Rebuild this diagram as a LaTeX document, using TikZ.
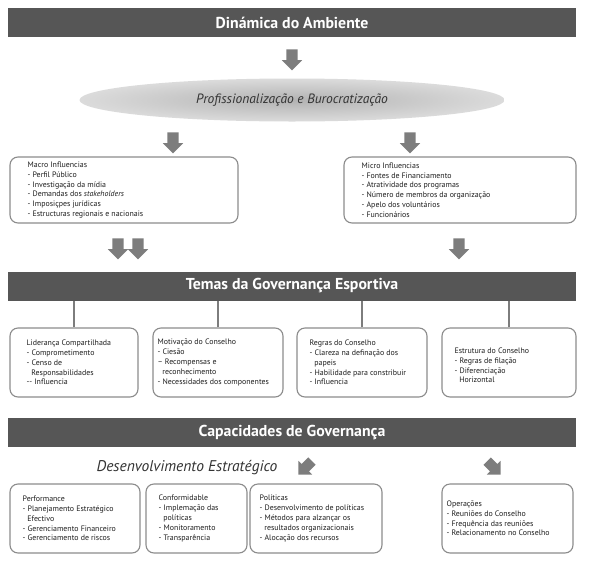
\documentclass[tikz,border=0pt]{standalone}
\usepackage{fontspec}
\setmainfont{PT Sans}
\usetikzlibrary{shapes.geometric,shapes.arrows}
\definecolor{bannergray}{RGB}{86,86,86}
\definecolor{arrowgray}{RGB}{125,125,125}
\definecolor{boxgray}{RGB}{140,140,140}
\definecolor{txtgray}{RGB}{30,30,30}
\newcommand{\boxfont}{\fontsize{7.9}{9.8}\selectfont}
\tikzset{
  banner/.style={fill=bannergray, minimum width=568pt, minimum height=29pt, inner sep=0pt,
    text=white, font=\bfseries\fontsize{15.8}{17}\selectfont},
  blockarrow/.style={single arrow, fill=arrowgray, draw=none, minimum height=21pt,
    inner sep=5.5pt, single arrow head extend=4.5pt},
  smallarrow/.style={single arrow, fill=arrowgray, draw=none, minimum height=19pt,
    inner sep=5pt, single arrow head extend=4.5pt},
  infobox/.style={draw=boxgray, line width=1.1pt, rounded corners=8pt, fill=white, inner sep=0pt},
  boxtext/.style={align=left, font=\boxfont, text=txtgray, inner sep=0pt, anchor=west},
  conn/.style={draw=arrowgray, line width=1.3pt}
}
\begin{document}
\begin{tikzpicture}[x=1pt,y=-1pt]
\useasboundingbox[fill=white] (0,0) rectangle (592,563);

% ---- top section
\node[banner] (dyn) at (292,22.5) {Dinámica do Ambiente};
\node[blockarrow, rotate=-90] (a0) at (292,57) {};
\node[ellipse, shading=radial, inner color=black!30, outer color=black!14,
      minimum width=425pt, minimum height=43pt, inner sep=0pt,
      font=\itshape\fontsize{13.5}{15}\selectfont, text=black!80] (prof) at (292,100)
      {Profissionalização e Burocratização};
\node[blockarrow, rotate=-90] (a1) at (173,140) {};
\node[blockarrow, rotate=-90] (a2) at (410,140) {};

\node[infobox, minimum width=228pt, minimum height=66pt] (macro) at (124,190) {};
\node[boxtext] (macrotxt) at ([xshift=18pt]macro.west) {Macro Influencias\\
- Perfil Público\\
- Investigação da mídia\\
- Demandas dos \textit{stakeholders}\\
- Imposiçpes jurídicas\\
- Estructuras regionais e nacionais};

\node[infobox, minimum width=232pt, minimum height=66pt] (micro) at (460,190) {};
\node[boxtext] (microtxt) at ([xshift=18pt]micro.west) {Micro Influencias\\
- Fontes de Financiamento\\
- Atratividade dos programas\\
- Número de membros da organização\\
- Apelo dos voluntários\\
- Funcionários};

\node[blockarrow, rotate=-90] (a3) at (118,246) {};
\node[blockarrow, rotate=-90] (a4) at (138,246) {};
\node[blockarrow, rotate=-90] (a5) at (459,246) {};

% ---- themes
\node[banner] (temas) at (292,286) {Temas da Governança Esportiva};

\node[infobox, minimum width=128pt, minimum height=69pt] (t1) at (74,362.5) {};
\node[boxtext] (t1txt) at ([xshift=17pt]t1.west) {Liderança Compartilhada\\
- Comprometimento\\
- Censo de\\
\hspace*{0.6em}Responsabilidades\\
-{}- Influencia};

\node[infobox, minimum width=130pt, minimum height=69pt] (t2) at (218,362.5) {};
\node[boxtext] (t2txt) at ([xshift=5pt]t2.west) {Motivação do Conselho\\
- Ciesão\\
– Recompensas e\\
\hspace*{0.6em}reconhecimento\\
- Necessidades dos componentes};

\node[infobox, minimum width=130pt, minimum height=69pt] (t3) at (362,362.5) {};
\node[boxtext] (t3txt) at ([xshift=13pt]t3.west) {Regras do Conselho\\
- Clareza na definação dos\\
\hspace*{0.6em}papeis\\
- Habilidade para constribuir\\
- Influencia};

\node[infobox, minimum width=134pt, minimum height=69pt] (t4) at (509,362.5) {};
\node[boxtext] (t4txt) at ([xshift=13pt,yshift=-3pt]t4.west) {Estrutura do Conselho\\
- Regras de filação\\
- Diferenciação\\
\hspace*{0.6em}Horizontal};

\foreach \b in {t1,t2,t3,t4}{
  \draw[conn] (\b.north) -- (\b.north |- temas.south);
}

% ---- capacities
\node[banner] (capac) at (292,432.5) {Capacidades de Governança};
\node[font=\itshape\fontsize{15.5}{17}\selectfont, text=black!80, inner sep=0pt] (desenv) at (187,468)
  {Desenvolvimento Estratégico};
\node[smallarrow, rotate=-135] (d1) at (307,466) {};
\node[smallarrow, rotate=-45] (d2) at (492,466) {};

\node[infobox, minimum width=130pt, minimum height=69pt] (b1) at (75,518.5) {};
\node[boxtext] (b1txt) at ([xshift=13pt]b1.west) {Performance\\
- Planejamento Estratégico\\
\hspace*{0.6em}Efectivo\\
- Gerenciamento Financeiro\\
- Gerenciamento de riscos};

\node[infobox, minimum width=101pt, minimum height=69pt] (b2) at (196.5,518.5) {};
\node[boxtext] (b2txt) at ([xshift=13pt]b2.west) {Conformidable\\
- Implemação das\\
\hspace*{0.6em}políticas\\
- Monitoramento\\
- Transparência};

\node[infobox, minimum width=132pt, minimum height=69pt] (b3) at (316,518.5) {};
\node[boxtext] (b3txt) at ([xshift=10pt]b3.west) {Políticas\\
- Desenvolvimento de políticas\\
- Métodos para alzançar os\\
\hspace*{0.6em}resultados organizacionais\\
- Alocação dos recursos};

\node[infobox, minimum width=131pt, minimum height=69pt] (b4) at (507.5,518.5) {};
\node[boxtext] (b4txt) at ([xshift=5pt]b4.west) {Operações\\
- Reuniões do Conselho\\
- Frequência das reuniões\\
- Relacionamento no Conselho};
\end{tikzpicture}
\end{document}
